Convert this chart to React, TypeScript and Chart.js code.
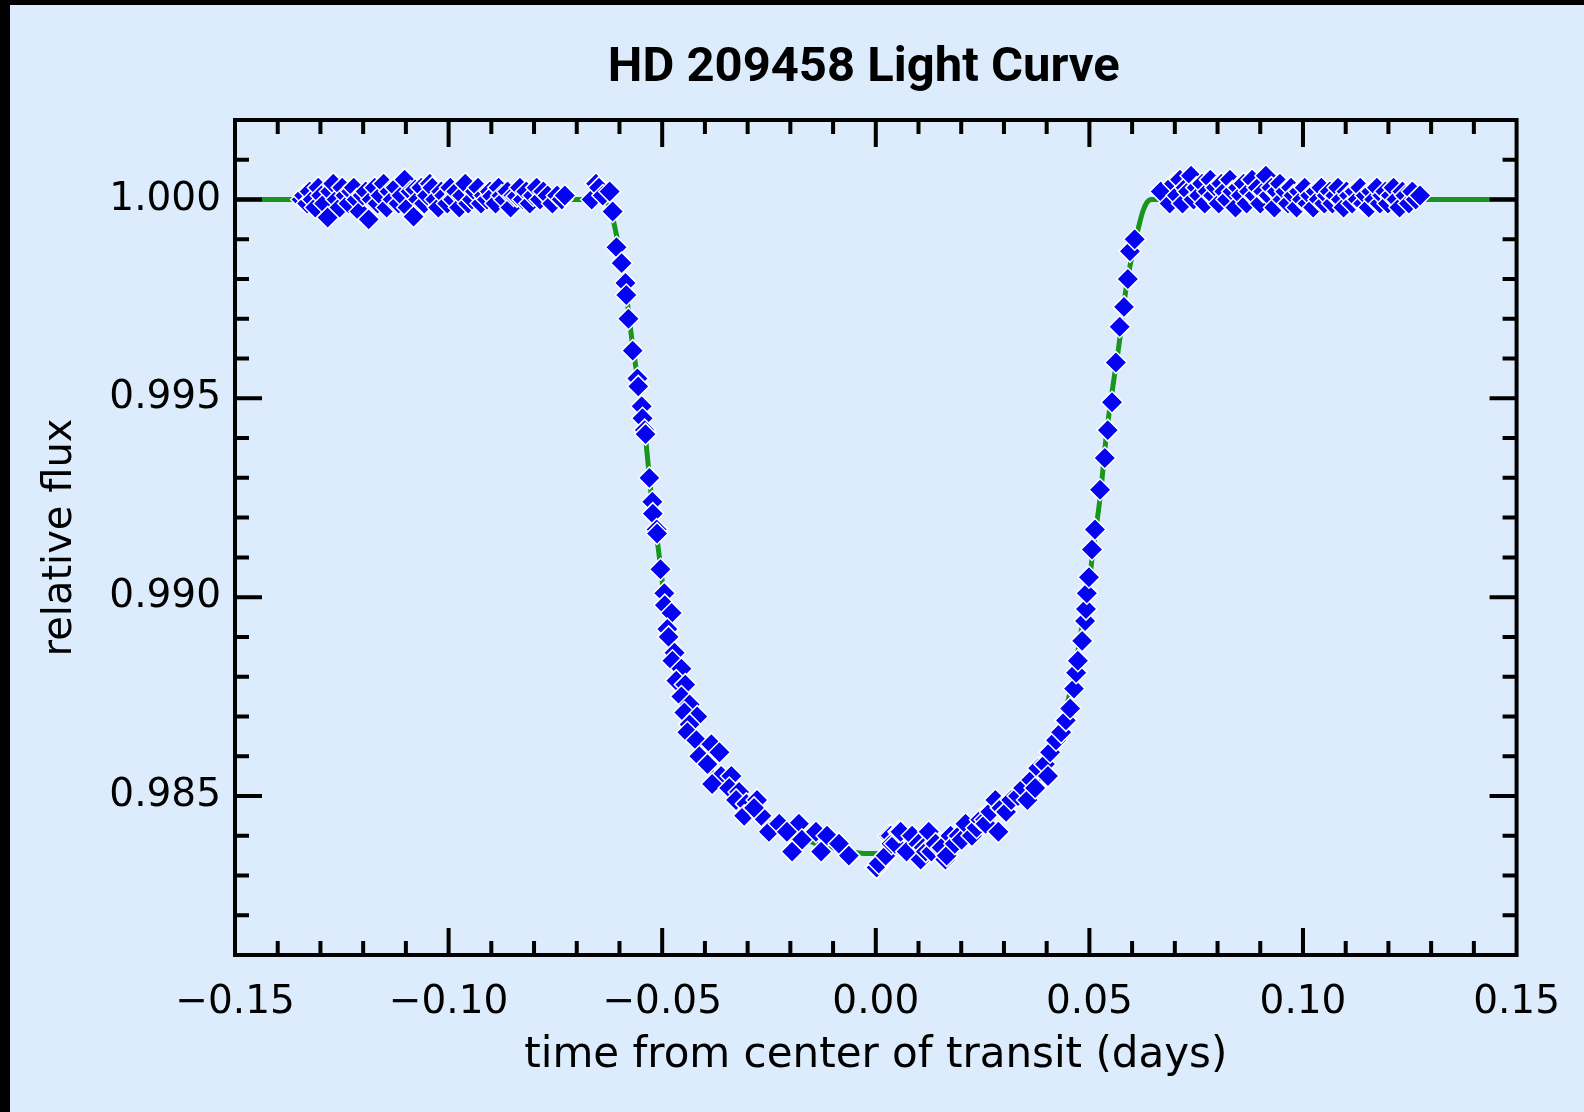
import { useEffect, useRef } from "react";
import { Chart, registerables } from "chart.js";

Chart.register(...registerables);

const CHART_TITLE = "HD 209458 Light Curve";
const X_TITLE = "time from center of transit (days)";
const Y_TITLE = "relative flux";

const xTickValues = [-0.15, -0.1, -0.05, 0, 0.05, 0.1, 0.15];
const yTickValues = [0.985, 0.99, 0.995, 1.0];
const X_MIN = -0.15;
const X_MAX = 0.15;
const Y_MIN = 0.981;
const Y_MAX = 1.002;
const X_MINOR_STEP = 0.01;
const X_MAJOR_STEP = 0.05;
const Y_MINOR_STEP = 0.001;
const Y_MAJOR_STEP = 0.005;

// observed photometry: [time from center (days), relative flux]
const preTransit: [number, number][] = [
  [-0.1344, 1.0], [-0.1338, 1.0001], [-0.1331, 0.9999], [-0.1325, 1.0002], [-0.1318, 1.0],
  [-0.1312, 0.9998], [-0.1305, 1.0003], [-0.1298, 1.0001], [-0.1291, 0.9999], [-0.1283, 0.99955],
  [-0.1277, 1.0002], [-0.127, 1.0004], [-0.1262, 1.0], [-0.1255, 0.9998], [-0.1249, 1.0003],
  [-0.1241, 1.0001], [-0.1234, 0.9999], [-0.1228, 1.0002], [-0.1222, 1.0003], [-0.1215, 1.0],
  [-0.1208, 0.9997], [-0.1201, 1.0001], [-0.1194, 1.0002], [-0.1187, 0.9995], [-0.118, 1.0],
  [-0.1173, 1.0003], [-0.1166, 0.9999], [-0.1159, 1.0001], [-0.1152, 1.0004], [-0.1145, 0.9998],
  [-0.1138, 1.0002], [-0.1131, 1.0], [-0.1124, 1.0003], [-0.1117, 0.9999], [-0.111, 1.0001],
  [-0.1103, 1.0005], [-0.1096, 0.9998], [-0.1089, 1.0002], [-0.1082, 0.99957], [-0.1078, 1.00025],
  [-0.1071, 1.0], [-0.1064, 1.0003], [-0.1057, 0.9999], [-0.105, 1.0001], [-0.1044, 1.0004],
  [-0.1038, 1.0003], [-0.1031, 1.0], [-0.1024, 0.9998], [-0.1017, 1.0002], [-0.101, 1.0001],
  [-0.1003, 0.9999], [-0.0996, 1.0003], [-0.0989, 1.0], [-0.0982, 1.0002], [-0.0975, 0.9998],
  [-0.0968, 1.0001], [-0.0961, 1.0004], [-0.0954, 0.9999], [-0.0945, 1.0], [-0.0938, 1.0002],
  [-0.0931, 1.0003], [-0.0924, 0.9999], [-0.0917, 1.0001], [-0.091, 1.0], [-0.0903, 1.0002],
  [-0.0898, 1.00008], [-0.089, 0.9999], [-0.0883, 1.0003], [-0.0876, 1.0001], [-0.0869, 1.0],
  [-0.0862, 1.0002], [-0.0855, 0.9998], [-0.0848, 1.0001], [-0.084, 1.00008], [-0.0833, 1.0003],
  [-0.0826, 1.0], [-0.0818, 1.0002], [-0.081, 0.9999], [-0.0802, 1.0001], [-0.0794, 1.0003],
  [-0.0786, 1.0], [-0.0778, 1.0002], [-0.0768, 1.0001], [-0.0757, 0.9999], [-0.0746, 1.0001],
  [-0.0735, 1.0], [-0.0728, 1.0001],
];

const ingress: [number, number][] = [
  [-0.0665, 1.0], [-0.0655, 1.0004], [-0.0648, 1.0003], [-0.0639, 1.0001], [-0.0623, 1.0002],
  [-0.0616, 0.9997], [-0.0607, 0.9988], [-0.0595, 0.9984], [-0.0586, 0.9979], [-0.0584, 0.9976],
  [-0.0579, 0.997], [-0.0569, 0.9962], [-0.0558, 0.9955], [-0.0556, 0.9953], [-0.0548, 0.9948],
  [-0.0546, 0.9945], [-0.0541, 0.9942], [-0.0539, 0.9941], [-0.053, 0.993], [-0.0523, 0.9924],
  [-0.0522, 0.9921], [-0.0513, 0.9917], [-0.0512, 0.9916], [-0.0504, 0.9907], [-0.0495, 0.9901],
  [-0.0494, 0.9898], [-0.0478, 0.9896], [-0.0488, 0.9892], [-0.0485, 0.989], [-0.0471, 0.9886],
  [-0.0476, 0.9884], [-0.0455, 0.9882], [-0.0467, 0.9879], [-0.0446, 0.9878], [-0.0455, 0.9875],
  [-0.0436, 0.9873], [-0.0448, 0.9871], [-0.0418, 0.987], [-0.0436, 0.9868], [-0.0441, 0.9866],
  [-0.042, 0.9864], [-0.0385, 0.9863], [-0.0413, 0.986], [-0.0366, 0.9861], [-0.0394, 0.9858],
  [-0.0362, 0.9855], [-0.0383, 0.9853], [-0.0338, 0.9855], [-0.0343, 0.9852], [-0.032, 0.9851],
  [-0.0327, 0.9849], [-0.0303, 0.9848], [-0.0278, 0.9849], [-0.0308, 0.9845], [-0.0268, 0.9845],
  [-0.0285, 0.9847], [-0.025, 0.9841], [-0.0226, 0.9843], [-0.018, 0.9843], [-0.0208, 0.9841],
  [-0.0173, 0.9839], [-0.0196, 0.9836], [-0.014, 0.9841], [-0.0114, 0.984], [-0.0128, 0.9836],
  [-0.0086, 0.9838], [-0.0063, 0.9835],
];

const egress: [number, number][] = [
  [0.0, 0.9832], [0.0002, 0.9832], [0.0007, 0.9833], [0.0023, 0.9835], [0.003, 0.984],
  [0.0035, 0.984], [0.0037, 0.9838], [0.0045, 0.9838], [0.0054, 0.9841], [0.0058, 0.9841],
  [0.0072, 0.9836], [0.0085, 0.984], [0.01, 0.9838], [0.0105, 0.9834], [0.0112, 0.9837],
  [0.0117, 0.9836], [0.0124, 0.9841], [0.013, 0.9836], [0.014, 0.9838], [0.0154, 0.9837],
  [0.0163, 0.9834], [0.0166, 0.9835], [0.0175, 0.984], [0.0185, 0.9838], [0.0194, 0.984],
  [0.0201, 0.9839], [0.021, 0.9843], [0.0225, 0.984], [0.0236, 0.9842], [0.0245, 0.9844],
  [0.0256, 0.9844], [0.0257, 0.9843], [0.0268, 0.9846], [0.028, 0.9849], [0.0287, 0.9841],
  [0.0294, 0.9847], [0.0305, 0.9846], [0.0317, 0.9849], [0.0333, 0.985], [0.0345, 0.9852],
  [0.0355, 0.9849], [0.0364, 0.9854], [0.0373, 0.9852], [0.038, 0.9857], [0.0396, 0.9858],
  [0.0403, 0.9855], [0.0408, 0.9861], [0.0422, 0.9864], [0.0434, 0.9866], [0.0445, 0.9869],
  [0.0455, 0.9872], [0.0464, 0.9877], [0.0469, 0.9881], [0.0473, 0.9884], [0.0483, 0.9889],
  [0.049, 0.9894], [0.0492, 0.9897], [0.0494, 0.9901], [0.0499, 0.9905], [0.0506, 0.9912],
  [0.0513, 0.9917], [0.0525, 0.9927], [0.0536, 0.9935], [0.0543, 0.9942], [0.0553, 0.9949],
  [0.0562, 0.9959], [0.0571, 0.9968], [0.0581, 0.9973], [0.059, 0.998], [0.0595, 0.9987],
  [0.0606, 0.999],
];

const postTransit: [number, number][] = [
  [0.0667, 1.0002], [0.0688, 0.9999], [0.0698, 1.0004], [0.0705, 1.0001], [0.0712, 1.0005],
  [0.0718, 0.9999], [0.0725, 1.0003], [0.0731, 1.0002], [0.0738, 1.0006], [0.0744, 1.0],
  [0.0751, 1.0003], [0.0757, 1.0001], [0.0764, 1.0004], [0.077, 0.9999], [0.0777, 1.0002],
  [0.0783, 1.0005], [0.079, 1.0001], [0.0796, 1.0003], [0.0803, 0.9999], [0.0809, 1.0004],
  [0.0816, 1.0002], [0.0822, 1.0], [0.0829, 1.0005], [0.0835, 1.0002], [0.0842, 0.9998],
  [0.0848, 1.0003], [0.0855, 1.0001], [0.0861, 1.0004], [0.0868, 0.9999], [0.0874, 1.0002],
  [0.0881, 1.0005], [0.0887, 1.0001], [0.0894, 1.0003], [0.09, 0.9999], [0.0907, 1.0002],
  [0.0913, 1.0006], [0.092, 1.0001], [0.0926, 1.0003], [0.0933, 0.9998], [0.0939, 1.0002],
  [0.0946, 1.0004], [0.0952, 1.0], [0.0959, 1.0002], [0.0965, 0.9999], [0.0972, 1.0003],
  [0.0978, 1.0001], [0.0985, 0.9998], [0.0991, 1.0002], [0.0998, 1.0], [0.1004, 1.0003],
  [0.1011, 0.9999], [0.1017, 1.0001], [0.1024, 0.9998], [0.103, 1.0002], [0.1037, 1.0],
  [0.1043, 1.0003], [0.105, 0.9999], [0.1056, 1.0001], [0.1063, 1.0002], [0.1069, 0.9999],
  [0.1076, 1.0001], [0.1082, 1.0003], [0.1089, 1.0], [0.1095, 0.9998], [0.1102, 1.0002],
  [0.1108, 1.0001], [0.1115, 0.9999], [0.1121, 1.0002], [0.1128, 1.0], [0.1134, 1.0003],
  [0.1141, 0.9999], [0.1147, 1.0001], [0.1154, 0.9998], [0.116, 1.0002], [0.1167, 1.0],
  [0.1173, 1.0003], [0.118, 0.9999], [0.1186, 1.0001], [0.1193, 1.0002], [0.1199, 0.9999],
  [0.1206, 1.0001], [0.1212, 1.0003], [0.1219, 1.0], [0.1226, 0.9998], [0.1233, 1.0002],
  [0.124, 1.0001], [0.1248, 0.9999], [0.1256, 1.0002], [0.1264, 1.0], [0.1274, 1.0001],
];

// fitted transit model (green curve)
const modelTime = [
  -0.15, -0.07, -0.064, -0.0625, -0.0615, -0.06, -0.0585, -0.057, -0.0555, -0.054, -0.0525,
  -0.051, -0.0495, -0.048, -0.0465, -0.045, -0.043, -0.041, -0.039, -0.036, -0.033, -0.03,
  -0.026, -0.022, -0.018, -0.014, -0.01, -0.005, 0.0, 0.005, 0.01, 0.014, 0.018, 0.022, 0.026,
  0.03, 0.033, 0.036, 0.039, 0.041, 0.043, 0.045, 0.0465, 0.048, 0.0495, 0.051, 0.0525, 0.054,
  0.0555, 0.057, 0.0585, 0.06, 0.0615, 0.0625, 0.0635, 0.0645, 0.066, 0.07, 0.15,
];
const modelFlux = [
  1.0, 1.0, 1.0, 0.99985, 0.9995, 0.9987, 0.9977, 0.9964, 0.9953, 0.9941, 0.9925,
  0.9913, 0.99, 0.9891, 0.9881, 0.9874, 0.9867, 0.9862, 0.9857, 0.9853, 0.985, 0.9847,
  0.9844, 0.9842, 0.984, 0.9838, 0.9837, 0.98358, 0.98355, 0.98358, 0.9837, 0.9838, 0.984, 0.9842, 0.9844,
  0.9847, 0.985, 0.9853, 0.9857, 0.9862, 0.9867, 0.9874, 0.9881, 0.9891, 0.99, 0.9913, 0.9925, 0.9941,
  0.9953, 0.9964, 0.9977, 0.9986, 0.9993, 0.9997, 0.99993, 1.0, 1.0, 1.0, 1.0,
];

const TICK_FONT = { family: "'DejaVu Sans', sans-serif", size: 39 };
const AXIS_TITLE_FONT = { family: "'DejaVu Sans', sans-serif", size: 42 };

const frameAndTicks = {
  id: "frameAndTicks",
  afterDatasetsDraw(chart: any) {
    const { ctx, chartArea, scales } = chart;
    const { left, right, top, bottom } = chartArea;
    const xs = scales.x;
    const ys = scales.y;
    ctx.save();
    ctx.strokeStyle = "#000";
    ctx.lineWidth = 4;
    ctx.lineCap = "butt";
    ctx.beginPath();
    const nx = Math.round((X_MAX - X_MIN) / X_MINOR_STEP);
    for (let i = 1; i < nx; i++) {
      const v = X_MIN + i * X_MINOR_STEP;
      const r = v / X_MAJOR_STEP;
      const major = Math.abs(r - Math.round(r)) < 1e-6;
      const len = major ? 27 : 14;
      const px = xs.getPixelForValue(v);
      ctx.moveTo(px, bottom);
      ctx.lineTo(px, bottom - len);
      ctx.moveTo(px, top);
      ctx.lineTo(px, top + len);
    }
    const ny = Math.round((Y_MAX - Y_MIN) / Y_MINOR_STEP);
    for (let j = 1; j < ny; j++) {
      const v = Y_MIN + j * Y_MINOR_STEP;
      const r = v / Y_MAJOR_STEP;
      const major = Math.abs(r - Math.round(r)) < 1e-6;
      const len = major ? 27 : 14;
      const py = ys.getPixelForValue(v);
      ctx.moveTo(left, py);
      ctx.lineTo(left + len, py);
      ctx.moveTo(right, py);
      ctx.lineTo(right - len, py);
    }
    ctx.stroke();
    ctx.strokeRect(left, top, right - left, bottom - top);
    ctx.restore();
  },
};

const chartTitle = {
  id: "chartTitle",
  afterDraw(chart: any) {
    const { ctx, chartArea } = chart;
    ctx.save();
    ctx.fillStyle = "#000";
    ctx.font = "bold 49px Roboto, 'Liberation Sans', sans-serif";
    ctx.textAlign = "center";
    ctx.textBaseline = "alphabetic";
    const cx = (chartArea.left + chartArea.right) / 2 - 12;
    ctx.fillText(CHART_TITLE, cx, chartArea.top - 39);
    ctx.restore();
  },
};

export default function App() {
  const canvasRef = useRef<HTMLCanvasElement | null>(null);

  useEffect(() => {
    const canvas = canvasRef.current;
    if (!canvas) return;
    const observed = [...preTransit, ...ingress, ...egress, ...postTransit].map(([t, f]) => ({ x: t, y: f }));
    const model = modelTime.map((t, i) => ({ x: t, y: modelFlux[i] }));

    const chart = new Chart(canvas, {
      type: "scatter",
      data: {
        datasets: [
          {
            label: "data",
            data: observed,
            pointStyle: "rectRot",
            pointRadius: 11,
            backgroundColor: "#0404f2",
            borderColor: "#ffffff",
            borderWidth: 1.5,
            order: 0,
          },
          {
            label: "model",
            data: model,
            showLine: true,
            pointRadius: 0,
            borderColor: "#18951a",
            borderWidth: 5,
            cubicInterpolationMode: "monotone",
            fill: false,
            order: 1,
          } as any,
        ],
      },
      options: {
        responsive: false,
        animation: false,
        events: [],
        layout: { padding: { top: 115, right: 64, left: 0, bottom: 0 } },
        plugins: {
          legend: { display: false },
          title: { display: false },
          tooltip: { enabled: false },
        },
        scales: {
          x: {
            type: "linear",
            position: "bottom",
            min: X_MIN,
            max: X_MAX,
            grid: { display: false, drawTicks: false },
            border: { display: false },
            afterBuildTicks: (scale: any) => {
              scale.ticks = xTickValues.map((v) => ({ value: v }));
            },
            afterFit: (scale: any) => {
              scale.height = 157;
            },
            ticks: {
              padding: 24,
              color: "#000",
              font: TICK_FONT,
              maxRotation: 0,
              autoSkip: false,
              callback: (v: any) => {
                const n = Number(v);
                const s = Math.abs(n).toFixed(2);
                return n < -1e-9 ? "\u2212" + s : s;
              },
            },
            title: {
              display: true,
              text: X_TITLE,
              color: "#000",
              font: AXIS_TITLE_FONT,
              padding: { top: 0, bottom: 31 },
            },
          },
          y: {
            type: "linear",
            position: "left",
            min: Y_MIN,
            max: Y_MAX,
            grid: { display: false, drawTicks: false },
            border: { display: false },
            afterBuildTicks: (scale: any) => {
              scale.ticks = yTickValues.map((v) => ({ value: v }));
            },
            afterFit: (scale: any) => {
              scale.width = 225;
            },
            ticks: {
              padding: 14,
              color: "#000",
              font: TICK_FONT,
              autoSkip: false,
              callback: (v: any) => Number(v).toFixed(3),
            },
            title: {
              display: true,
              text: Y_TITLE,
              color: "#000",
              font: { family: "'DejaVu Sans', sans-serif", size: 40 },
              padding: { top: 27, bottom: 0 },
            },
          },
        },
      },
      plugins: [frameAndTicks, chartTitle],
    });
    return () => chart.destroy();
  }, []);

  return (
    <div style={{ position: "fixed", left: 0, top: 0, width: 1584, height: 1112, background: "#000" }}>
      <div style={{ position: "absolute", left: 10, top: 5, width: 1574, height: 1107, background: "#dcecfc" }}>
        <canvas ref={canvasRef} width={1574} height={1107} style={{ display: "block" }} />
      </div>
    </div>
  );
}
